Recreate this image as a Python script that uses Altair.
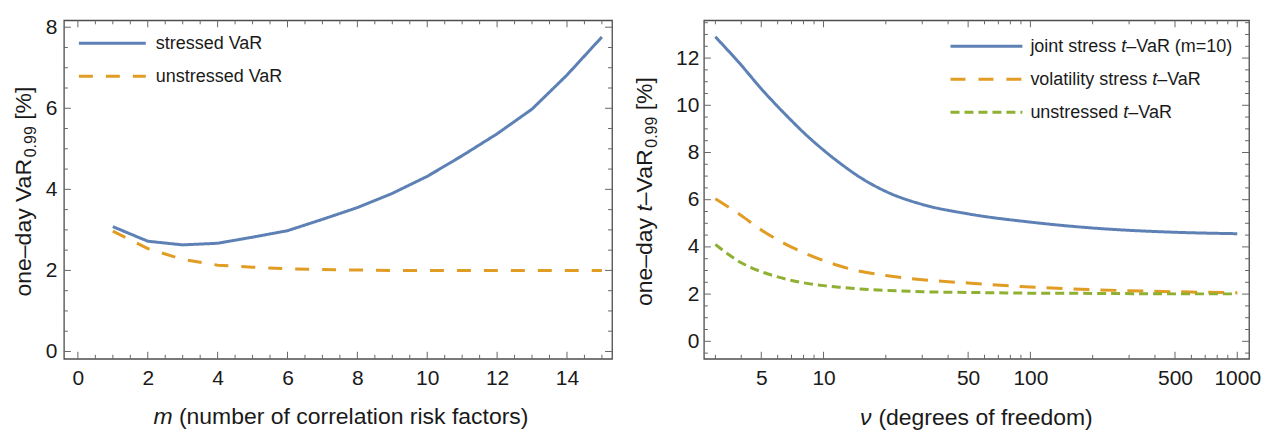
import altair as alt
import pandas as pd

# ---------------- data ----------------
m_vals = list(range(1, 16))
stressed_var = [3.08, 2.72, 2.63, 2.67, 2.82, 2.98, 3.26, 3.55, 3.90, 4.32, 4.83, 5.37, 5.98, 6.82, 7.76]
unstressed_var = [2.97, 2.54, 2.27, 2.13, 2.08, 2.04, 2.02, 2.01, 2.00, 2.00, 2.00, 2.00, 2.00, 2.00, 2.00]

nu_vals = [3, 4, 5, 6, 7, 8, 10, 12, 15, 20, 30, 50, 100, 200, 500, 1000]
joint_tvar = [12.9, 11.7, 10.7, 9.95, 9.35, 8.85, 8.1, 7.55, 6.95, 6.35, 5.8, 5.4, 5.05, 4.8, 4.62, 4.56]
vol_tvar = [6.04, 5.33, 4.72, 4.30, 3.99, 3.76, 3.42, 3.19, 2.97, 2.79, 2.61, 2.47, 2.30, 2.19, 2.10, 2.06]
unstr_tvar = [4.10, 3.33, 2.95, 2.73, 2.58, 2.48, 2.36, 2.29, 2.22, 2.16, 2.10, 2.07, 2.04, 2.03, 2.01, 2.01]

left_series = ["stressed VaR", "unstressed VaR"]
right_series = ["joint stress t–VaR (m=10)", "volatility stress t–VaR", "unstressed t–VaR"]

left_x_labels = [0, 2, 4, 6, 8, 10, 12, 14]
left_x_minor = [v / 2 for v in range(0, 31) if v % 4 != 0]
left_y_labels = [0, 2, 4, 6, 8]
left_y_minor = [v / 2 for v in range(0, 17) if v % 4 != 0]
right_x_labels = [5, 10, 50, 100, 500, 1000]
right_x_minor = [3, 4, 6, 7, 8, 9, 20, 30, 40, 60, 70, 80, 90, 200, 300, 400, 600, 700, 800, 900]
right_y_labels = [0, 2, 4, 6, 8, 10, 12]
right_y_minor = [v / 2 for v in range(-1, 28) if v % 4 != 0]

# ---------------- styling ----------------
BLUE = "#5E81B5"
ORANGE = "#E19C24"
GREEN = "#8FB032"
FRAME = "#4d4d4d"
TICK = "#666666"
TXT = "#1a1a1a"
FONT = "Liberation Sans"
TICKFS = 21
TITLEFS = 23
SUBFS = 16
LEGFS = 18

W1, W2, H = 549, 546, 339

# Arial / Liberation Sans advance widths (1/1000 em) used to place mixed-style text pieces
AW = {" ": 278, "a": 556, "b": 556, "c": 500, "d": 556, "e": 556, "f": 278, "g": 556,
      "h": 556, "i": 222, "j": 222, "k": 500, "l": 222, "m": 833, "n": 556, "o": 556,
      "p": 556, "q": 556, "r": 333, "s": 500, "t": 278, "u": 556, "v": 500, "w": 722,
      "x": 500, "y": 500, "z": 500, "V": 667, "R": 722, "(": 333, ")": 333, "=": 584,
      "–": 556, "[": 278, "]": 278, "%": 889, ".": 278, "ν": 520}


def tw(s, size):
    return sum(AW.get(c, 556) for c in s) * size / 1000.0


one = pd.DataFrame({"k": [0]})


def hpieces(pieces, x0, y, size):
    """horizontal run of text pieces, left aligned from x0 on an alphabetic baseline y."""
    out = []
    x = x0
    for txt, italic in pieces:
        lead = len(txt) - len(txt.lstrip(" "))
        x += tw(" " * lead, size)
        body = txt.strip(" ")
        out.append(alt.Chart(one).mark_text(text=body, align="left", baseline="alphabetic",
                                            font=FONT, fontSize=size, color=TXT,
                                            fontStyle="italic" if italic else "normal")
                   .encode(x=alt.value(x), y=alt.value(y)))
        x += tw(txt.lstrip(" "), size)
    return out


def vpieces(pieces, xb, yc):
    """rotated (bottom-to-top) run of pieces centred on yc; pieces: (text, size, italic, dx)."""
    total = sum(tw(t, s) for t, s, _, _ in pieces)
    y = yc + total / 2
    out = []
    for txt, size, italic, dx in pieces:
        lead = len(txt) - len(txt.lstrip(" "))
        y -= tw(" " * lead, size)
        body = txt.strip(" ")
        out.append(alt.Chart(one).mark_text(text=body, align="left", baseline="alphabetic",
                                            angle=270, font=FONT, fontSize=size, color=TXT,
                                            fontStyle="italic" if italic else "normal")
                   .encode(x=alt.value(xb + dx), y=alt.value(y)))
        y -= tw(txt.lstrip(" "), size)
    return out


def frame_ticks(xmaj, xmin, ymaj, ymin, xscale, yscale, xaxis, yaxis, Wd):
    out = []
    for vals, L in [(xmaj, 7), (xmin, 4)]:
        base = alt.Chart(pd.DataFrame({"t": vals})).mark_rule(color=TICK, strokeWidth=1)
        out.append(base.encode(x=alt.X("t:Q", scale=xscale, axis=xaxis), y=alt.value(H), y2=alt.value(H - L)))
        out.append(base.encode(x=alt.X("t:Q", scale=xscale, axis=xaxis), y=alt.value(0), y2=alt.value(L)))
    for vals, L in [(ymaj, 7), (ymin, 4)]:
        base = alt.Chart(pd.DataFrame({"t": vals})).mark_rule(color=TICK, strokeWidth=1)
        out.append(base.encode(y=alt.Y("t:Q", scale=yscale, axis=yaxis), x=alt.value(0), x2=alt.value(L)))
        out.append(base.encode(y=alt.Y("t:Q", scale=yscale, axis=yaxis), x=alt.value(Wd), x2=alt.value(Wd - L)))
    return out


def legend_row(x0, x1, y, color, dash):
    kw = dict(color=color, strokeWidth=3)
    if dash:
        kw["strokeDash"] = dash
    return alt.Chart(one).mark_rule(**kw).encode(x=alt.value(x0), x2=alt.value(x1), y=alt.value(y))


ax_common = dict(ticks=False, tickSize=0, domain=False, grid=False, labelFont=FONT,
                 labelFontSize=TICKFS, labelColor=TXT, title=None)

# ---------------- left panel ----------------
xs1 = alt.Scale(domain=[-0.4, 15.29], nice=False, zero=False)
ys1 = alt.Scale(domain=[-0.18, 8.17], nice=False, zero=False)
xa1 = alt.Axis(values=left_x_labels, labelPadding=9, **ax_common)
ya1 = alt.Axis(values=left_y_labels, labelPadding=7, **ax_common)

dfL = pd.DataFrame({
    "m": m_vals * 2,
    "v": stressed_var + unstressed_var,
    "s": [left_series[0]] * len(m_vals) + [left_series[1]] * len(m_vals),
})

lines_left = alt.Chart(dfL).mark_line(strokeWidth=3, clip=True).encode(
    x=alt.X("m:Q", scale=xs1, axis=xa1),
    y=alt.Y("v:Q", scale=ys1, axis=ya1),
    color=alt.Color("s:N", scale=alt.Scale(domain=left_series, range=[BLUE, ORANGE]), legend=None),
    strokeDash=alt.StrokeDash("s:N", scale=alt.Scale(domain=left_series, range=[[1, 0], [14, 13]]), legend=None),
    detail="s:N",
)

left_layers = [lines_left]
left_layers += frame_ticks(left_x_labels, left_x_minor, left_y_labels, left_y_minor, xs1, ys1, xa1, ya1, W1)
left_layers += [legend_row(15, 82, 23, BLUE, None), legend_row(15, 82, 56, ORANGE, [14, 13])]
left_layers += hpieces([(left_series[0], False)], 92, 23 + 6, LEGFS)
left_layers += hpieces([(left_series[1], False)], 92, 56 + 6, LEGFS)
xt = "m (number of correlation risk factors)"
left_layers += hpieces([("m", True), (xt[1:], False)], W1 / 2 + 3 - tw(xt, TITLEFS) / 2, H + 65, TITLEFS)
left_layers += vpieces([("one–day VaR", TITLEFS, False, 0), ("0.99", SUBFS, False, 5),
                        (" [%]", TITLEFS, False, 0)], -33, H / 2 + 2)

left = alt.layer(*left_layers).properties(width=W1, height=H)

# ---------------- right panel ----------------
xs2 = alt.Scale(type="log", domain=[2.64, 1140], nice=False, zero=False)
ys2 = alt.Scale(domain=[-0.74, 13.6], nice=False, zero=False)
xa2 = alt.Axis(values=right_x_labels, format="d", labelPadding=9, **ax_common)
ya2 = alt.Axis(values=right_y_labels, labelPadding=5, **ax_common)

n = len(nu_vals)
dfR = pd.DataFrame({
    "nu": nu_vals * 3,
    "v": joint_tvar + vol_tvar + unstr_tvar,
    "s": [right_series[0]] * n + [right_series[1]] * n + [right_series[2]] * n,
})

lines_right = alt.Chart(dfR).mark_line(strokeWidth=3, interpolate="monotone", clip=True).encode(
    x=alt.X("nu:Q", scale=xs2, axis=xa2),
    y=alt.Y("v:Q", scale=ys2, axis=ya2),
    color=alt.Color("s:N", scale=alt.Scale(domain=right_series, range=[BLUE, ORANGE, GREEN]), legend=None),
    strokeDash=alt.StrokeDash("s:N", scale=alt.Scale(domain=right_series,
                                                     range=[[1, 0], [16, 11], [9, 5]]), legend=None),
    detail="s:N",
)

right_layers = [lines_right]
right_layers += frame_ticks(right_x_labels, right_x_minor, right_y_labels, right_y_minor, xs2, ys2, xa2, ya2, W2)
LX0, LX1, LT = 247, 319, 327
right_layers += [legend_row(LX0, LX1, 26, BLUE, None),
                 legend_row(LX0, LX1, 59, ORANGE, [15, 13]),
                 legend_row(LX0, LX1, 92, GREEN, [9, 5])]
right_layers += hpieces([("joint stress ", False), ("t", True), ("–VaR (m=10)", False)], LT, 26 + 6, LEGFS)
right_layers += hpieces([("volatility stress ", False), ("t", True), ("–VaR", False)], LT, 59 + 6, LEGFS)
right_layers += hpieces([("unstressed ", False), ("t", True), ("–VaR", False)], LT, 92 + 6, LEGFS)
xt2 = "ν (degrees of freedom)"
right_layers += hpieces([("ν", True), (xt2[1:], False)], W2 / 2 - tw(xt2, TITLEFS) / 2, H + 66, TITLEFS)
right_layers += vpieces([("one–day ", TITLEFS, False, 0), ("t", TITLEFS, True, 0), ("–VaR", TITLEFS, False, 0),
                         ("0.99", SUBFS, False, 5), (" [%]", TITLEFS, False, 0)], -52, H / 2 + 2)

right = alt.layer(*right_layers).properties(width=W2, height=H)

chart = alt.hconcat(left, right, spacing=19).resolve_scale(
    color="independent", strokeDash="independent"
).properties(
    padding={"left": 4, "top": 7, "right": 5, "bottom": 2},
    background="white",
).configure_view(stroke=FRAME, strokeWidth=1.3)

chart.save("out.html", embed_options={"renderer": "svg", "actions": False})
